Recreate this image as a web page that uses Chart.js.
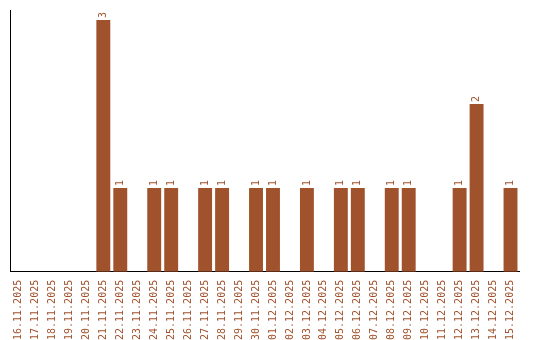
<!DOCTYPE html>
<html>
<head>
<meta charset="utf-8">
<script src="https://cdn.jsdelivr.net/npm/chart.js@4"></script>
<style>
  html, body { margin: 0; padding: 0; background: #fff; }
</style>
</head>
<body>
<canvas id="chart" width="540" height="340"></canvas>
<script>
// daily counts, 16.11.2025 - 15.12.2025
const days = [
  '16.11.2025', '17.11.2025', '18.11.2025', '19.11.2025', '20.11.2025',
  '21.11.2025', '22.11.2025', '23.11.2025', '24.11.2025', '25.11.2025',
  '26.11.2025', '27.11.2025', '28.11.2025', '29.11.2025', '30.11.2025',
  '01.12.2025', '02.12.2025', '03.12.2025', '04.12.2025', '05.12.2025',
  '06.12.2025', '07.12.2025', '08.12.2025', '09.12.2025', '10.12.2025',
  '11.12.2025', '12.12.2025', '13.12.2025', '14.12.2025', '15.12.2025'
];
const counts = [
  0, 0, 0, 0, 0,
  3, 1, 0, 1, 1,
  0, 1, 1, 0, 1,
  1, 0, 1, 0, 1,
  1, 0, 1, 1, 0,
  0, 1, 2, 0, 1
];

const brown = '#A0522D';
const monoFont = "'DejaVu Sans Mono', monospace";

// value on top of each bar, rotated like the x labels
const valueLabels = {
    id: 'valueLabels',
    afterDatasetsDraw(chart) {
        const ctx = chart.ctx;
        const meta = chart.getDatasetMeta(0);
        ctx.save();
        ctx.fillStyle = brown;
        ctx.font = '10px ' + monoFont;
        ctx.textAlign = 'left';
        ctx.textBaseline = 'middle';
        meta.data.forEach((bar, i) => {
            if (!counts[i]) return;
            ctx.save();
            ctx.translate(bar.x, bar.y - 2);
            ctx.rotate(-Math.PI / 2);
            ctx.fillText(String(counts[i]), 0, 0);
            ctx.restore();
        });
        ctx.restore();
    }
};

new Chart(document.getElementById('chart'), {
    type: 'bar',
    data: {
        labels: days,
        datasets: [{
            data: counts,
            backgroundColor: brown,
            barPercentage: 0.82,
            categoryPercentage: 1.0
        }]
    },
    options: {
        responsive: false,
        animation: false,
        layout: { padding: { left: 2, right: 21, top: 10, bottom: 0 } },
        plugins: {
            legend: { display: false },
            tooltip: { enabled: false }
        },
        scales: {
            x: {
                grid: { display: false },
                border: { color: '#000', width: 1 },
                ticks: {
                    color: brown,
                    font: { family: monoFont, size: 10 },
                    minRotation: 90,
                    maxRotation: 90,
                    autoSkip: false,
                    padding: 0
                }
            },
            y: {
                min: 0,
                max: Math.max(...counts) * 1.04,
                grid: { display: false },
                border: { color: '#000', width: 1 },
                ticks: { display: false }
            }
        }
    },
    plugins: [valueLabels]
});
</script>
</body>
</html>
